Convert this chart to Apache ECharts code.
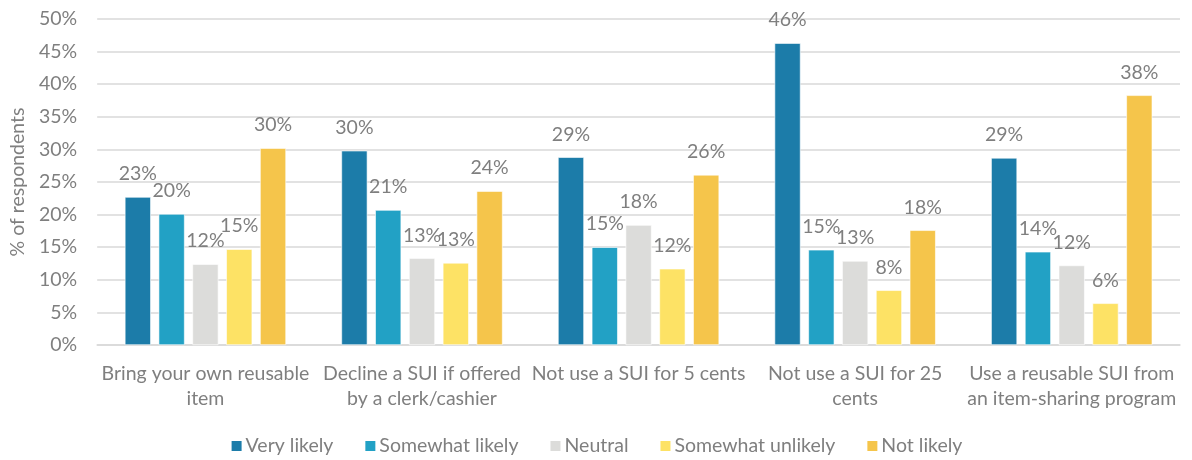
<!DOCTYPE html>
<html>
<head>
<meta charset="utf-8">
<script src="https://cdn.jsdelivr.net/npm/echarts@6/dist/echarts.min.js"></script>
<style>
  html, body { margin: 0; padding: 0; background: #fff; }
  #chart { width: 1192px; height: 460px; }
</style>
</head>
<body>
<div id="chart"></div>
<script>
// Survey actions (x-axis categories)
const categories = [
  'Bring your own reusable\nitem',
  'Decline a SUI if offered\nby a clerk/cashier',
  'Not use a SUI for 5 cents',
  'Not use a SUI for 25\ncents',
  'Use a reusable SUI from\nan item-sharing program'
];

// Share of respondents (%) per response, one value per category
const veryLikely        = [22.7, 29.8, 28.8, 46.3, 28.7];
const somewhatLikely    = [20.1, 20.7, 15.0, 14.6, 14.3];
const neutral           = [12.4, 13.3, 18.4, 12.9, 12.2];
const somewhatUnlikely  = [14.7, 12.6, 11.7,  8.4,  6.4];
const notLikely         = [30.2, 23.6, 26.1, 17.6, 38.3];

const seriesNames  = ['Very likely', 'Somewhat likely', 'Neutral', 'Somewhat unlikely', 'Not likely'];
const seriesValues = [veryLikely, somewhatLikely, neutral, somewhatUnlikely, notLikely];
const seriesColors = ['#1c7ca9', '#22a1c5', '#dcdcda', '#fde265', '#f5c54b'];

const FONT = 'Lato';
const GREY = '#7f7f7f';
const FS = 19.5;

const chart = echarts.init(document.getElementById('chart'));

chart.setOption({
  animation: false,
  textStyle: { fontFamily: FONT },
  grid: { left: 95, right: 12, top: 19, bottom: 115 },
  legend: {
    bottom: -1,
    left: 'center',
    itemWidth: 12,
    itemHeight: 12,
    itemGap: 30,
    icon: 'rect',
    textStyle: { color: GREY, fontSize: FS, fontFamily: FONT, padding: [0, 0, 0, -2] },
    data: seriesNames
  },
  xAxis: {
    type: 'category',
    data: categories,
    axisTick: { show: false },
    axisLine: { lineStyle: { color: '#d9d9d9', width: 1.5 } },
    axisLabel: {
      color: GREY,
      fontSize: FS,
      fontFamily: FONT,
      lineHeight: 25,
      margin: 16,
      interval: 0
    }
  },
  yAxis: {
    type: 'value',
    min: 0,
    max: 50,
    interval: 5,
    name: '% of respondents',
    nameLocation: 'middle',
    nameGap: 68,
    nameRotate: 90,
    nameTextStyle: { color: GREY, fontSize: FS, fontFamily: FONT },
    axisLine: { show: false },
    axisTick: { show: false },
    axisLabel: {
      color: GREY,
      fontSize: FS,
      fontFamily: FONT,
      margin: 20,
      formatter: v => v + '%'
    },
    splitLine: { lineStyle: { color: '#d9d9d9', width: 1.5 } }
  },
  series: seriesNames.map((name, i) => ({
    name,
    type: 'bar',
    data: seriesValues[i],
    barWidth: 26,
    barGap: '30%',
    itemStyle: { color: seriesColors[i], borderColor: '#ffffff', borderWidth: 0.6 },
    label: {
      show: true,
      position: 'top',
      distance: 13,
      color: GREY,
      fontSize: FS,
      fontFamily: FONT,
      formatter: p => Math.round(p.value) + '%'
    }
  }))
});
</script>
</body>
</html>
